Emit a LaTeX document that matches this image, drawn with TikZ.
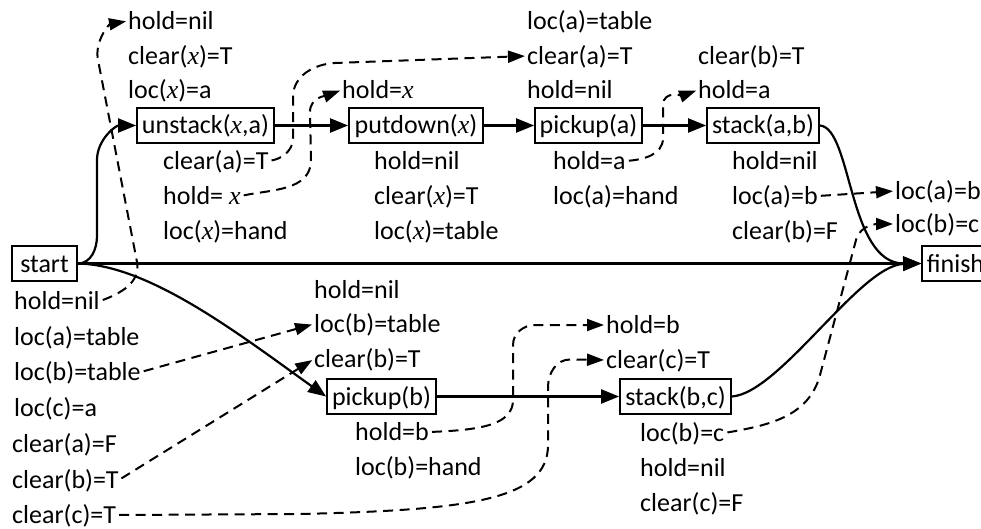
\documentclass[tikz,border=0pt]{standalone}
\usepackage{fontspec}
\setmainfont{Carlito}
\newfontfamily\xfont{Liberation Serif}
\newcommand\vx{{\xfont\itshape x}}
\usetikzlibrary{arrows.meta}
\begin{document}
\begin{tikzpicture}[x=1pt,y=1pt,
  lbl/.style={anchor=west,inner sep=0pt,text height=17pt,text depth=0pt,font=\fontsize{26}{30}\selectfont},
  act/.style={draw,line width=1.8pt,inner sep=0pt,text height=17pt,text depth=0pt,minimum height=35pt,font=\fontsize{26}{30}\selectfont},
  flow/.style={line width=2.2pt,-{Triangle[length=18pt,width=14pt]}},
  dep/.style={line width=2pt,dash pattern=on 10pt off 6.5pt,-{Triangle[length=17pt,width=12pt]},shorten <=3pt,shorten >=2pt}]
\useasboundingbox (0,0) rectangle (981,-529);
% action boxes
\node[act,minimum width=65pt] (start) at (44.5,-263.5) {start};
\node[act,minimum width=137pt] (unstack) at (205.5,-125.5) {unstack(\vx,a)};
\node[act,minimum width=134pt] (putdown) at (416,-125.5) {putdown(\vx)};
\node[act,minimum width=107pt] (pickupa) at (588.5,-125.5) {pickup(a)};
\node[act,minimum width=112pt] (stackab) at (763,-125.5) {stack(a,b)};
\node[act,minimum width=67pt] (finish) at (955.5,-263.5) {finish};
\node[act,minimum width=109pt] (pickupb) at (381.5,-396.5) {pickup(b)};
\node[act,minimum width=111pt] (stackbc) at (675.5,-396.5) {stack(b,c)};
% labels: preconditions of unstack
\node[lbl] (a1) at (128,-21) {hold=nil};
\node[lbl] (a2) at (128,-56) {clear(\vx)=T};
\node[lbl] (a3) at (128,-90) {loc(\vx)=a};
% effects of unstack
\node[lbl] (u1) at (163,-161) {clear(a)=T};
\node[lbl] (u2) at (163,-196) {hold= \vx};
\node[lbl] (u3) at (163,-231) {loc(\vx)=hand};
% putdown
\node[lbl] (p0) at (342,-90) {hold=\vx};
\node[lbl] (p1) at (374,-161) {hold=nil};
\node[lbl] (p2) at (374,-196) {clear(\vx)=T};
\node[lbl] (p3) at (374,-231) {loc(\vx)=table};
% pickup(a)
\node[lbl] (c1) at (527,-21) {loc(a)=table};
\node[lbl] (c2) at (527,-56) {clear(a)=T};
\node[lbl] (c3) at (527,-90) {hold=nil};
\node[lbl] (d1) at (553,-161) {hold=a};
\node[lbl] (d2) at (553,-196) {loc(a)=hand};
% stack(a,b)
\node[lbl] (s1) at (698,-56) {clear(b)=T};
\node[lbl] (s2) at (698,-90) {hold=a};
\node[lbl] (e1) at (732,-161) {hold=nil};
\node[lbl] (e2) at (732,-196) {loc(a)=b};
\node[lbl] (e3) at (732,-231) {clear(b)=F};
% finish preconditions
\node[lbl] (r1) at (895,-191) {loc(a)=b};
\node[lbl] (r2) at (895,-224) {loc(b)=c};
% start effects
\node[lbl] (l1) at (14,-301) {hold=nil};
\node[lbl] (l2) at (14,-337) {loc(a)=table};
\node[lbl] (l3) at (14,-372) {loc(b)=table};
\node[lbl] (l4) at (14,-408) {loc(c)=a};
\node[lbl] (l5) at (12,-444) {clear(a)=F};
\node[lbl] (l6) at (12,-480) {clear(b)=T};
\node[lbl] (l7) at (12,-515) {clear(c)=T};
% pickup(b)
\node[lbl] (g1) at (314,-290) {hold=nil};
\node[lbl] (g2) at (314,-324) {loc(b)=table};
\node[lbl] (g3) at (314,-359) {clear(b)=T};
\node[lbl] (pb1) at (355,-432) {hold=b};
\node[lbl] (pb2) at (355,-467) {loc(b)=hand};
% stack(b,c)
\node[lbl] (h1) at (606,-325) {hold=b};
\node[lbl] (h2) at (606,-360) {clear(c)=T};
\node[lbl] (f1) at (640,-433) {loc(b)=c};
\node[lbl] (f2) at (640,-468) {hold=nil};
\node[lbl] (f3) at (640,-503) {clear(c)=F};
% ordering connectors
\draw[flow] (start.east) to[out=0,in=-90] (97,-236) -- (97,-160) to[out=90,in=180] (unstack.west);
\draw[flow] (unstack.east) -- (putdown.west);
\draw[flow] (putdown.east) -- (pickupa.west);
\draw[flow] (pickupa.east) -- (stackab.west);
\draw[flow] (stackab.east) .. controls (852,-128) and (848,-263.5) .. (finish.west);
\draw[flow] (start.east) -- (finish.west);
\draw[flow] (start.east) .. controls (150,-265) and (240,-335) .. (pickupb.west);
\draw[flow] (pickupb.east) -- (stackbc.west);
\draw[flow] (stackbc.east) .. controls (780,-393) and (860,-265) .. (finish.west);
% causal links
\draw[dep] (l1.east) to[out=20,in=-79] (137,-262) -- (98,-60) to[out=101,in=190] (a1.west);
\draw[dep] (u1.east) to[out=10,in=-90] (293,-138) -- (293,-97) to[out=90,in=183] (335,-63) -- (c2.west);
\draw[dep] (u2.east) to[out=12,in=-90] (311,-160) -- (310,-112) to[out=90,in=200] (p0.west);
\draw[dep] (d1.east) to[out=5,in=-90] (663,-138) -- (663,-105) to[out=90,in=200] (s2.west);
\draw[dep] (e2.east) -- (r1.west);
\draw[dep] (f1.east) to[out=10,in=-105] (820,-375) -- (856,-240) to[out=75,in=180] (r2.west);
\draw[dep] (l3.east) -- (g2.west);
\draw[dep] (l6.east) -- (g3.west);
\draw[dep] (l7.east) -- (300,-514) .. controls (470,-510) and (548,-500) .. (548,-445) -- (548,-387) to[out=90,in=180] (570,-359.5) -- (h2.west);
\draw[dep] (pb1.east) .. controls (480,-430) and (513,-425) .. (513,-400) -- (513,-345) to[out=90,in=180] (535,-325) -- (h1.west);
\end{tikzpicture}
\end{document}
